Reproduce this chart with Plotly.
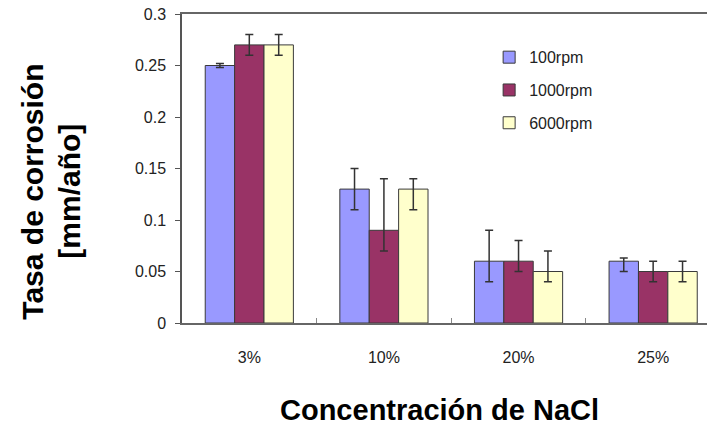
import plotly.graph_objects as go

categories = ["3%", "10%", "20%", "25%"]
series_names = ["100rpm", "1000rpm", "6000rpm"]
vals_100 = [0.25, 0.13, 0.06, 0.06]
vals_1000 = [0.27, 0.09, 0.06, 0.05]
vals_6000 = [0.27, 0.13, 0.05, 0.05]
err_plus_100 = [0.002, 0.02, 0.03, 0.003]
err_minus_100 = [0.002, 0.02, 0.02, 0.01]
err_plus_1000 = [0.01, 0.05, 0.02, 0.01]
err_minus_1000 = [0.01, 0.02, 0.01, 0.01]
err_plus_6000 = [0.01, 0.01, 0.02, 0.01]
err_minus_6000 = [0.01, 0.02, 0.01, 0.01]
colors = ["#9999FF", "#993366", "#FFFFCC"]
y_title_lines = ["Tasa de corrosión", "[mm/año]"]
x_title = "Concentración de NaCl"

FONT = "Liberation Sans, Arial, sans-serif"

fig = go.Figure()
for name, v, ep, em, c in zip(
    series_names,
    [vals_100, vals_1000, vals_6000],
    [err_plus_100, err_plus_1000, err_plus_6000],
    [err_minus_100, err_minus_1000, err_minus_6000],
    colors,
):
    fig.add_trace(go.Bar(
        x=categories, y=v, name=name, legendgroup=name,
        marker=dict(color=c, line=dict(color="#3a3a3a", width=1)),
        error_y=dict(type="data", symmetric=False, array=ep, arrayminus=em,
                     color="#333333", thickness=1.5, width=4),
    ))

fig.update_layout(
    width=707, height=429, autosize=False,
    margin=dict(l=182, r=0, t=14, b=106),
    paper_bgcolor="white", plot_bgcolor="white",
    barmode="group", bargap=0.345, bargroupgap=0,
    font=dict(family=FONT, color="#222222"),
    showlegend=True,
    legend=dict(x=0.585, y=0.915, xanchor="left", yanchor="top",
                tracegroupgap=9,
                font=dict(size=16, family=FONT, color="#222222"),
                bgcolor="rgba(0,0,0,0)", borderwidth=0),
    xaxis=dict(range=[-0.5, 3.4], showline=True, linecolor="#666666", linewidth=1.5,
               mirror=True, ticks="inside", tickson="boundaries", ticklen=5,
               tickcolor="#888888", showgrid=False, zeroline=False,
               ticklabelstandoff=19,
               tickfont=dict(size=16, family=FONT, color="#222222")),
    yaxis=dict(range=[0, 0.3], dtick=0.05, showline=True, linecolor="#555555",
               linewidth=1.5, ticks="outside", ticklen=5, tickcolor="#555555",
               showgrid=False, zeroline=False, ticklabelstandoff=6,
               tickfont=dict(size=16, family=FONT, color="#222222")),
    annotations=[
        dict(text="<b>" + y_title_lines[0] + "</b>", textangle=-90,
             xref="paper", yref="paper", x=0, y=0.425, xshift=-149,
             xanchor="center", yanchor="middle", showarrow=False,
             font=dict(size=30, family=FONT, color="black")),
        dict(text="<b>" + y_title_lines[1] + "</b>", textangle=-90,
             xref="paper", yref="paper", x=0, y=0.425, xshift=-112,
             xanchor="center", yanchor="middle", showarrow=False,
             font=dict(size=30, family=FONT, color="black")),
        dict(text="<b>" + x_title + "</b>",
             xref="paper", yref="paper", x=0.491, y=0, yshift=-87,
             xanchor="center", yanchor="middle", showarrow=False,
             font=dict(size=29, family=FONT, color="black")),
    ],
)

fig.write_html("out.html", config={"displayModeBar": False},
               post_script="document.body.style.margin='0';")
